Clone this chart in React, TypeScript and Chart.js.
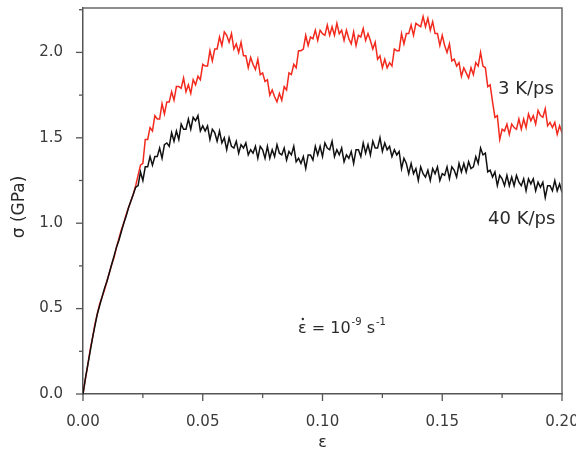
import React, { useEffect, useRef } from "react";
import { Chart, registerables } from "chart.js";

Chart.register(...registerables);

// strain sampling step (ε), one stress value per step starting at ε = 0
const strainStep = 0.001;

// σ (GPa) for 3 K/ps (red)
const redStress = [
  0.00, 0.09, 0.17, 0.26, 0.33, 0.41, 0.47, 0.53, 0.57, 0.61,
  0.66, 0.71, 0.76, 0.80, 0.86, 0.91, 0.96, 1.00, 1.05, 1.09,
  1.13, 1.17, 1.22, 1.28, 1.34, 1.35, 1.49, 1.49, 1.56, 1.54,
  1.63, 1.61, 1.61, 1.70, 1.64, 1.71, 1.71, 1.77, 1.72, 1.80,
  1.80, 1.79, 1.85, 1.77, 1.81, 1.76, 1.84, 1.81, 1.86, 1.84,
  1.93, 1.92, 1.92, 2.01, 1.95, 2.02, 2.02, 2.09, 2.04, 2.12,
  2.10, 2.06, 2.11, 2.02, 2.05, 2.00, 2.06, 1.98, 1.98, 1.91,
  1.97, 1.93, 1.90, 1.96, 1.87, 1.88, 1.83, 1.84, 1.75, 1.78,
  1.74, 1.71, 1.76, 1.72, 1.80, 1.78, 1.88, 1.87, 1.93, 1.91,
  2.01, 2.01, 2.02, 2.10, 2.04, 2.09, 2.08, 2.13, 2.07, 2.13,
  2.11, 2.10, 2.16, 2.10, 2.15, 2.10, 2.17, 2.11, 2.13, 2.07,
  2.13, 2.08, 2.05, 2.12, 2.04, 2.10, 2.09, 2.14, 2.07, 2.11,
  2.07, 2.02, 2.06, 1.96, 1.98, 1.91, 1.96, 1.91, 1.94, 1.92,
  2.02, 2.01, 2.01, 2.11, 2.05, 2.11, 2.11, 2.16, 2.10, 2.17,
  2.16, 2.15, 2.21, 2.15, 2.20, 2.13, 2.18, 2.11, 2.11, 2.04,
  2.10, 2.04, 2.00, 2.05, 1.95, 1.96, 1.92, 1.94, 1.86, 1.91,
  1.88, 1.85, 1.91, 1.87, 1.94, 1.92, 2.00, 1.92, 1.91, 1.80,
  1.81, 1.71, 1.62, 1.63, 1.49, 1.55, 1.54, 1.58, 1.52, 1.58,
  1.56, 1.55, 1.61, 1.55, 1.61, 1.56, 1.64, 1.60, 1.63, 1.58,
  1.66, 1.63, 1.62, 1.67, 1.57, 1.59, 1.56, 1.59, 1.52, 1.57,
  1.53,
];

// σ (GPa) for 40 K/ps (black)
const blackStress = [
  0.00, 0.09, 0.17, 0.25, 0.33, 0.40, 0.47, 0.52, 0.57, 0.62,
  0.66, 0.71, 0.76, 0.81, 0.86, 0.90, 0.95, 1.00, 1.04, 1.09,
  1.13, 1.17, 1.21, 1.22, 1.30, 1.25, 1.33, 1.33, 1.39, 1.34,
  1.39, 1.39, 1.44, 1.38, 1.46, 1.47, 1.45, 1.53, 1.48, 1.54,
  1.49, 1.58, 1.55, 1.55, 1.61, 1.55, 1.62, 1.60, 1.63, 1.54,
  1.57, 1.54, 1.57, 1.49, 1.55, 1.53, 1.48, 1.54, 1.47, 1.50,
  1.43, 1.50, 1.45, 1.44, 1.48, 1.41, 1.46, 1.44, 1.47, 1.40,
  1.43, 1.41, 1.45, 1.38, 1.45, 1.43, 1.38, 1.45, 1.38, 1.43,
  1.39, 1.46, 1.41, 1.40, 1.44, 1.37, 1.42, 1.40, 1.45, 1.36,
  1.38, 1.35, 1.39, 1.32, 1.40, 1.40, 1.37, 1.45, 1.40, 1.45,
  1.39, 1.47, 1.44, 1.43, 1.48, 1.39, 1.43, 1.40, 1.44, 1.36,
  1.40, 1.38, 1.42, 1.35, 1.43, 1.43, 1.39, 1.47, 1.41, 1.46,
  1.40, 1.48, 1.44, 1.44, 1.50, 1.42, 1.47, 1.43, 1.45, 1.39,
  1.43, 1.40, 1.42, 1.32, 1.38, 1.35, 1.29, 1.35, 1.29, 1.32,
  1.25, 1.33, 1.29, 1.27, 1.31, 1.25, 1.32, 1.29, 1.33, 1.25,
  1.29, 1.28, 1.33, 1.26, 1.33, 1.31, 1.27, 1.35, 1.30, 1.35,
  1.30, 1.36, 1.32, 1.33, 1.39, 1.35, 1.44, 1.40, 1.41, 1.30,
  1.31, 1.27, 1.30, 1.22, 1.28, 1.26, 1.22, 1.28, 1.22, 1.27,
  1.22, 1.28, 1.24, 1.22, 1.26, 1.19, 1.26, 1.23, 1.26, 1.19,
  1.24, 1.21, 1.24, 1.15, 1.22, 1.22, 1.19, 1.25, 1.19, 1.23,
  1.18,
];

const xTickValues = [0, 0.05, 0.1, 0.15, 0.2];
const yTickValues = [0, 0.5, 1.0, 1.5, 2.0];
const xMinorValues = [0.025, 0.075, 0.125, 0.175];
const yMinorValues = [0.25, 0.75, 1.25, 1.75, 2.25];

const seriesLabels = ["3 K/ps", "40 K/ps"];
const xTitle = "ε";
const yTitle = "σ (GPa)";

const FONT = "'DejaVu Sans', sans-serif";

const toPoints = (arr: number[]) => arr.map((y, i) => ({ x: i * strainStep, y }));

const decorPlugin = {
  id: "decor",
  afterDraw(chart: any) {
    const { ctx, chartArea, scales } = chart;
    const xs = scales.x;
    const ys = scales.y;
    ctx.save();
    // frame top & right
    ctx.strokeStyle = "#6a6a6a";
    ctx.lineWidth = 1.5;
    ctx.beginPath();
    ctx.moveTo(chartArea.left, chartArea.top);
    ctx.lineTo(chartArea.right, chartArea.top);
    ctx.lineTo(chartArea.right, chartArea.bottom);
    ctx.stroke();
    // ticks
    ctx.strokeStyle = "#555";
    ctx.lineWidth = 1.3;
    const drawX = (v: number, len: number) => {
      const px = xs.getPixelForValue(v);
      ctx.beginPath();
      ctx.moveTo(px, chartArea.bottom);
      ctx.lineTo(px, chartArea.bottom + len);
      ctx.stroke();
    };
    const drawY = (v: number, len: number) => {
      const py = ys.getPixelForValue(v);
      ctx.beginPath();
      ctx.moveTo(chartArea.left, py);
      ctx.lineTo(chartArea.left - len, py);
      ctx.stroke();
    };
    xTickValues.forEach((v) => drawX(v, 7));
    xMinorValues.forEach((v) => drawX(v, 4));
    yTickValues.forEach((v) => drawY(v, 7));
    yMinorValues.forEach((v) => drawY(v, 4));

    // series labels
    ctx.fillStyle = "#2a2a2a";
    ctx.font = `18px ${FONT}`;
    ctx.textBaseline = "alphabetic";
    ctx.textAlign = "left";
    ctx.fillText(seriesLabels[0], 498, 94);
    ctx.fillText(seriesLabels[1], 488, 224);

    // strain-rate annotation
    let x = 298;
    const base = 333;
    ctx.font = `16px ${FONT}`;
    ctx.fillText("ε", x, base);
    const ew = ctx.measureText("ε").width;
    ctx.beginPath();
    ctx.arc(x + ew / 2 + 0.5, base - 14, 1.2, 0, Math.PI * 2);
    ctx.fill();
    x += ew;
    ctx.fillText(" = 10", x, base);
    x += ctx.measureText(" = 10").width + 1;
    ctx.font = `10px ${FONT}`;
    ctx.fillText("-9", x, base - 8);
    x += ctx.measureText("-9").width;
    ctx.font = `16px ${FONT}`;
    ctx.fillText(" s", x, base);
    x += ctx.measureText(" s").width + 1;
    ctx.font = `10px ${FONT}`;
    ctx.fillText("-1", x, base - 8);

    // axis titles
    ctx.font = `16px ${FONT}`;
    ctx.textAlign = "center";
    ctx.textBaseline = "middle";
    ctx.fillText(xTitle, (chartArea.left + chartArea.right) / 2, 443);
    ctx.font = `17px ${FONT}`;
    ctx.translate(20, 207);
    ctx.rotate(-Math.PI / 2);
    ctx.fillText(yTitle, 0, 0);
    ctx.restore();
  },
};

export default function App() {
  const ref = useRef<HTMLCanvasElement | null>(null);
  useEffect(() => {
    if (!ref.current) return;
    const chart = new Chart(ref.current, {
      type: "line",
      data: {
        datasets: [
          {
            label: seriesLabels[1],
            data: toPoints(blackStress),
            borderColor: "#111111",
            borderWidth: 1.5,
            pointRadius: 0,
            tension: 0,
          },
          {
            label: seriesLabels[0],
            data: toPoints(redStress),
            borderColor: "#f22a1e",
            borderWidth: 1.5,
            pointRadius: 0,
            tension: 0,
          },
        ],
      },
      options: {
        responsive: false,
        animation: false,
        layout: { padding: { left: 0, right: 14, top: 8, bottom: 0 } },
        plugins: { legend: { display: false }, tooltip: { enabled: false } },
        scales: {
          x: {
            type: "linear",
            min: 0,
            max: 0.2,
            grid: { display: false },
            border: { display: true, color: "#555", width: 1.5 },
            ticks: {
              stepSize: 0.05,
              includeBounds: false,
              padding: 11,
              color: "#3a3a3a",
              font: { family: FONT, size: 15 },
              callback: (v: any) => Number(v).toFixed(2),
              maxRotation: 0,
            },
            afterFit: (s: any) => {
              s.height = 63;
              s.paddingLeft = 0;
              s.paddingRight = 0;
            },
          },
          y: {
            type: "linear",
            min: 0,
            max: 2.26,
            grid: { display: false },
            border: { display: true, color: "#555", width: 1.5 },
            ticks: {
              stepSize: 0.5,
              includeBounds: false,
              padding: 12,
              color: "#3a3a3a",
              font: { family: FONT, size: 15 },
              callback: (v: any) => (Math.abs(v * 2 - Math.round(v * 2)) < 1e-6 ? Number(v).toFixed(1) : ""),
            },
            afterFit: (s: any) => {
              s.width = 83;
              s.paddingTop = 0;
              s.paddingBottom = 0;
            },
          },
        },
      },
      plugins: [decorPlugin],
    });
    return () => chart.destroy();
  }, []);
  return (
    <div style={{ position: "absolute", left: 0, top: 0, width: 576, height: 457, background: "#fff" }}>
      <canvas ref={ref} width={576} height={457} style={{ width: 576, height: 457 }} />
    </div>
  );
}
